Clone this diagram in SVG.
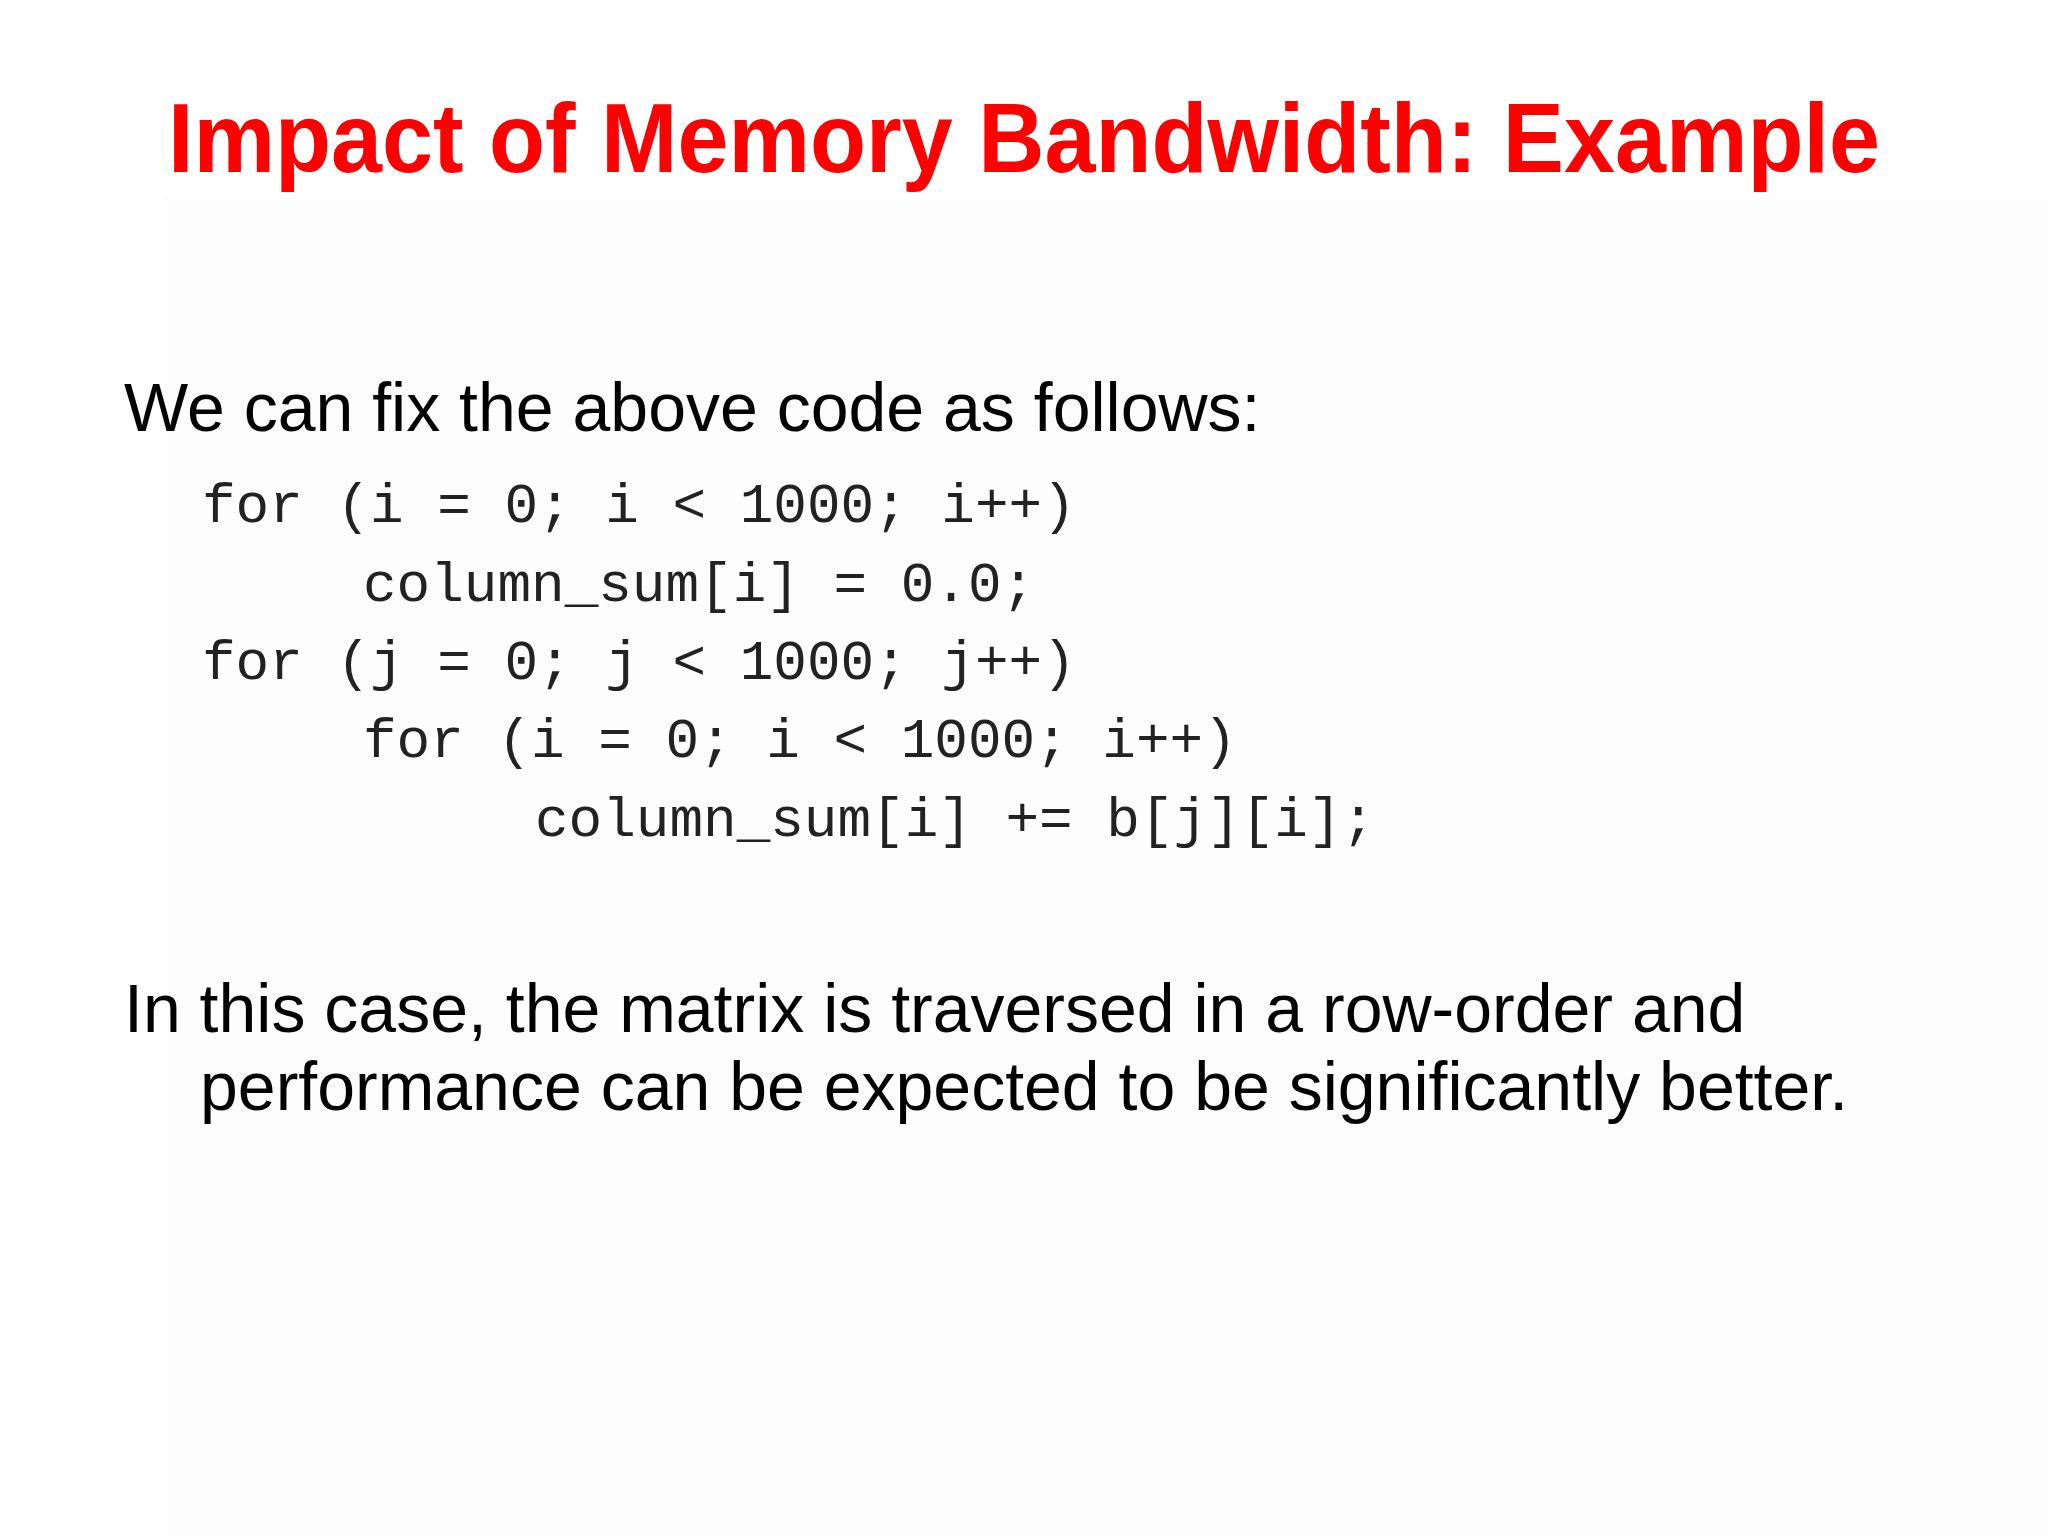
<svg xmlns="http://www.w3.org/2000/svg" width="2048" height="1536" viewBox="0 0 2048 1536">
<style>
.t{font-family:"Liberation Sans",Arial,sans-serif;fill:#000;font-size:68px}
.c{font-family:"Liberation Mono","Courier New",monospace;fill:#222;font-size:56px}
</style>
<rect width="2048" height="1536" fill="#ffffff"/>
<rect x="163" y="195" width="1885" height="1341" fill="#fdfdfd"/>
<g id="title"><text x="1024" y="172" text-anchor="middle" font-family="Liberation Sans,Arial,sans-serif" font-weight="bold" font-size="98" fill="#ff0000" textLength="1712" lengthAdjust="spacingAndGlyphs">Impact of Memory Bandwidth: Example</text></g>
<g id="intro"><text class="t" x="124" y="431">We can fix the above code as follows:</text></g>
<g id="code" xml:space="preserve">
<text class="c" x="202" y="522">for (i = 0; i &lt; 1000; i++)</text>
<text class="c" x="363" y="601">column_sum[i] = 0.0;</text>
<text class="c" x="202" y="679">for (j = 0; j &lt; 1000; j++)</text>
<text class="c" x="363" y="757">for (i = 0; i &lt; 1000; i++)</text>
<text class="c" x="535" y="836">column_sum[i] += b[j][i];</text>
</g>
<g id="conclusion">
<text class="t" x="124" y="1032">In this case, the matrix is traversed in a row-order and</text>
<text class="t" x="200" y="1110">performance can be expected to be significantly better.</text>
</g>
</svg>
